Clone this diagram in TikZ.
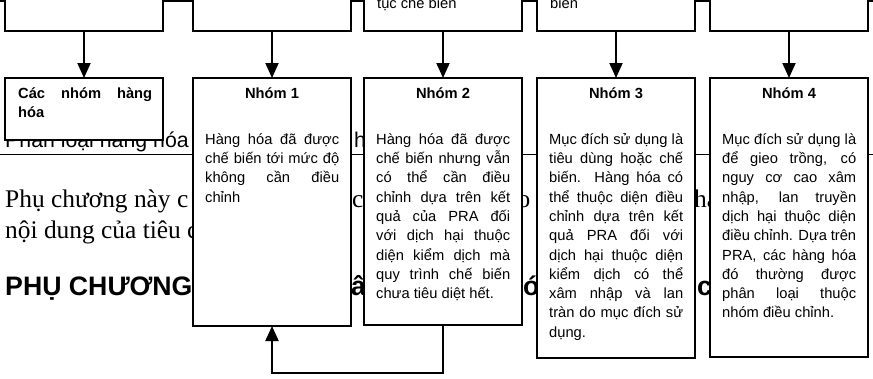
\documentclass[tikz,border=0pt]{standalone}
\usepackage{fontspec}
\setmainfont{Liberation Serif}
\setsansfont{Liberation Sans}
\usetikzlibrary{arrows.meta}
\tolerance=10000
\hbadness=10000
\emergencystretch=10pt

\newcommand{\firstrow}{\rule{0pt}{15pt}}
\newcommand{\boxfont}{\sffamily\fontsize{14.7}{19.3}\selectfont}

\tikzset{
  box/.style={draw, line width=1.8pt, fill=white, anchor=north west,
    inner sep=0pt, outer sep=0pt, minimum width=158pt},
  link/.style={line width=2pt, -{Triangle[width=13pt,length=15pt]}},
  pagerule/.style={line width=1.5pt},
  head/.style={inner sep=0pt, anchor=base, font=\boxfont\bfseries},
  body/.style={inner sep=0pt, anchor=north west, text width=134pt,
    align=justify, font=\boxfont},
  page/.style={inner sep=0pt, anchor=base west},
  secfont/.style={font=\sffamily\fontsize{21.3}{25}\selectfont},
  parafont/.style={font=\rmfamily\fontsize{25.4}{31}\selectfont},
  titlefont/.style={font=\sffamily\bfseries\fontsize{26.7}{32}\selectfont},
}

\begin{document}
\begin{tikzpicture}[x=1pt, y=-1pt]
\useasboundingbox (0,0) rectangle (873,378);
\clip (0,0) rectangle (873,378);

\draw[pagerule] (0,1) -- (873,1);
\draw[pagerule] (0,154.5) -- (873,154.5);

\node[page, secfont] (sec) at (5,147) {Phân loại hàng hóa};
\node[page, secfont] (secb) at (354,147) {h};
\node[page, parafont] (para) at (5,207) {Phụ chương này c};
\node[page, parafont] (parab) at (352,207) {c};
\node[page, parafont] (parac) at (517.5,207) {o};
\node[page, parafont] (parad) at (694,207) {ha};
\node[page, parafont] (parae) at (5,238) {nội dung của tiêu c};
\node[page, titlefont] (title) at (5,295) {PHỤ CHƯƠNG};
\node[page, titlefont] (titleb) at (351,295) {ân};
\node[page, titlefont] (titlec) at (523,295) {ó};
\node[page, titlefont] (titled) at (697,295) {c};

\foreach \x/\n in {5/0,193/1,364/2,537/3,710/4}
  \node[box, minimum height=91pt] (u\n) at (\x,-60) {};
\node[page, font=\boxfont] (u2t) at (377,8) {tục chế biến};
\node[page, font=\boxfont] (u3t) at (550,8) {biến};

\foreach \x/\n/\h in {5/0/62,193/1/248,364/2/247,537/3/280,710/4/279}
  \node[box, minimum height=\h pt] (b\n) at (\x,78) {};

\foreach \n in {0,...,4}
  \draw[link] (u\n) -- (b\n);
\draw[link] (b2.south) -- ++(0,48) -| (b1.south);

\node[body, font=\boxfont\bfseries] (b0t) at (18,83) {\firstrow Các nhóm hàng\linebreak hóa};

\node[head] (b1h) at (272,98) {Nhóm 1};
\node[head] (b2h) at (443,98) {Nhóm 2};
\node[head] (b3h) at (616,98) {Nhóm 3};
\node[head] (b4h) at (789,98) {Nhóm 4};

\node[body] (b1t) at (205,129) {\firstrow Hàng hóa đã được\linebreak
  chế biến tới mức độ\linebreak không cần điều\linebreak chỉnh};
\node[body] (b2t) at (376,129) {\firstrow Hàng hóa đã được\linebreak
  chế biến nhưng vẫn\linebreak có thể cần điều\linebreak
  chỉnh dựa trên kết\linebreak quả của PRA đối\linebreak
  với dịch hại thuộc\linebreak diện kiểm dịch mà\linebreak
  quy trình chế biến\linebreak chưa tiêu diệt hết.};
\node[body] (b3t) at (549,129) {\firstrow Mục đích sử dụng là\linebreak
  tiêu dùng hoặc chế\linebreak biến. Hàng hóa có\linebreak
  thể thuộc diện điều\linebreak chỉnh dựa trên kết\linebreak
  quả PRA đối với\linebreak dịch hại thuộc diện\linebreak
  kiểm dịch có thể\linebreak xâm nhập và lan\linebreak
  tràn do mục đích sử\linebreak dụng.};
\node[body] (b4t) at (722,129) {\firstrow Mục đích sử dụng là\linebreak
  để gieo trồng, có\linebreak nguy cơ cao xâm\linebreak
  nhập, lan truyền\linebreak dịch hại thuộc diện\linebreak
  điều chỉnh. Dựa trên\linebreak PRA, các hàng hóa\linebreak
  đó thường được\linebreak phân loại thuộc\linebreak
  nhóm điều chỉnh.};
\end{tikzpicture}
\end{document}
